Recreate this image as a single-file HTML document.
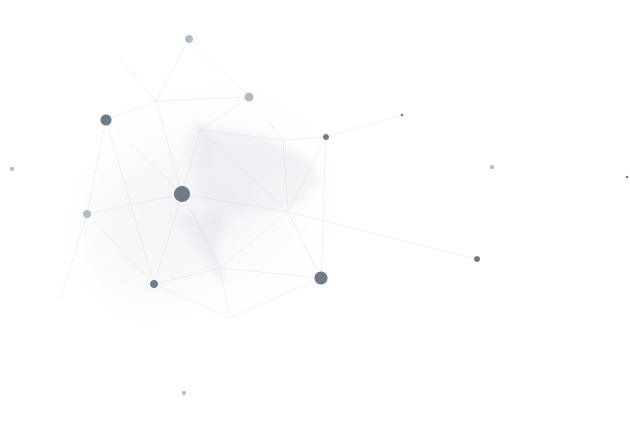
<!DOCTYPE html>
<html><head><style>html,body{margin:0;padding:0;background:#fff}svg{display:block}</style></head>
<body>
<svg width="630" height="436" viewBox="0 0 630 436" xmlns="http://www.w3.org/2000/svg">
<defs>
<filter id="b" x="-50%" y="-50%" width="200%" height="200%"><feGaussianBlur stdDeviation="18"/></filter>
<filter id="b2" x="-50%" y="-50%" width="200%" height="200%"><feGaussianBlur stdDeviation="4"/></filter>
<radialGradient id="g" cx="50%" cy="50%" r="50%"><stop offset="0" stop-color="#f2f2f6"/><stop offset="1" stop-color="#fff" stop-opacity="0"/></radialGradient>
</defs>
<ellipse cx="215" cy="200" rx="150" ry="140" fill="url(#g)"/>
<g filter="url(#b2)" opacity="0.6">
<polygon points="195,125 260,135 310,160 320,185 290,195 240,215 200,200 185,150" fill="#ebebf1"/>
<polygon points="175,215 230,210 215,250 225,285 205,260" fill="#e2e2ec"/>
<polygon points="195,120 215,140 205,170" fill="#e4e4ec"/>
<polygon points="250,180 300,170 310,200 260,215" fill="#eeeef3"/>
</g>
<g filter="url(#b)" opacity="0.5"><ellipse cx="150" cy="230" rx="60" ry="70" fill="#f2f2f5"/></g>
<g stroke="#c8ccd4" stroke-width="0.5" fill="none" opacity="0.5">
<path d="M156,101 L249,97 L283,140 L326,137 L402,115"/>
<path d="M106,120 L156,101 L189,39 M156,101 L182,194 L200,130 L249,97 M200,130 L283,140"/>
<path d="M106,120 L182,194 L288,212 L321,278 L220,268 L154,284 L87,214 L182,194"/>
<path d="M106,120 L87,214 M106,120 L154,284 M182,194 L154,284 M200,130 L288,212 L477,259"/>
<path d="M283,140 L288,212 L220,268 L182,194 M326,137 L321,278 M288,212 L326,137"/>
<path d="M154,284 L230,318 L321,278 M220,268 L230,318 M87,214 L60,300 M156,101 L120,60 M249,97 L189,39"/>
</g>
<g fill="#b2bac2">
<circle cx="189" cy="39" r="4"/><circle cx="249" cy="97" r="4.5"/><circle cx="12" cy="169" r="2"/>
<circle cx="492" cy="167" r="2"/><circle cx="87" cy="214" r="4"/><circle cx="184" cy="393" r="2"/>
</g>
<g fill="#6f7b88">
<circle cx="106" cy="120" r="5.5"/><circle cx="402" cy="115" r="1.3"/><circle cx="326" cy="137" r="3"/>
<circle cx="627" cy="177" r="1.3"/><circle cx="182" cy="194" r="8"/><circle cx="477" cy="259" r="3"/>
<circle cx="321" cy="278" r="6.5"/><circle cx="154" cy="284" r="4"/>
</g>
</svg>
</body></html>
